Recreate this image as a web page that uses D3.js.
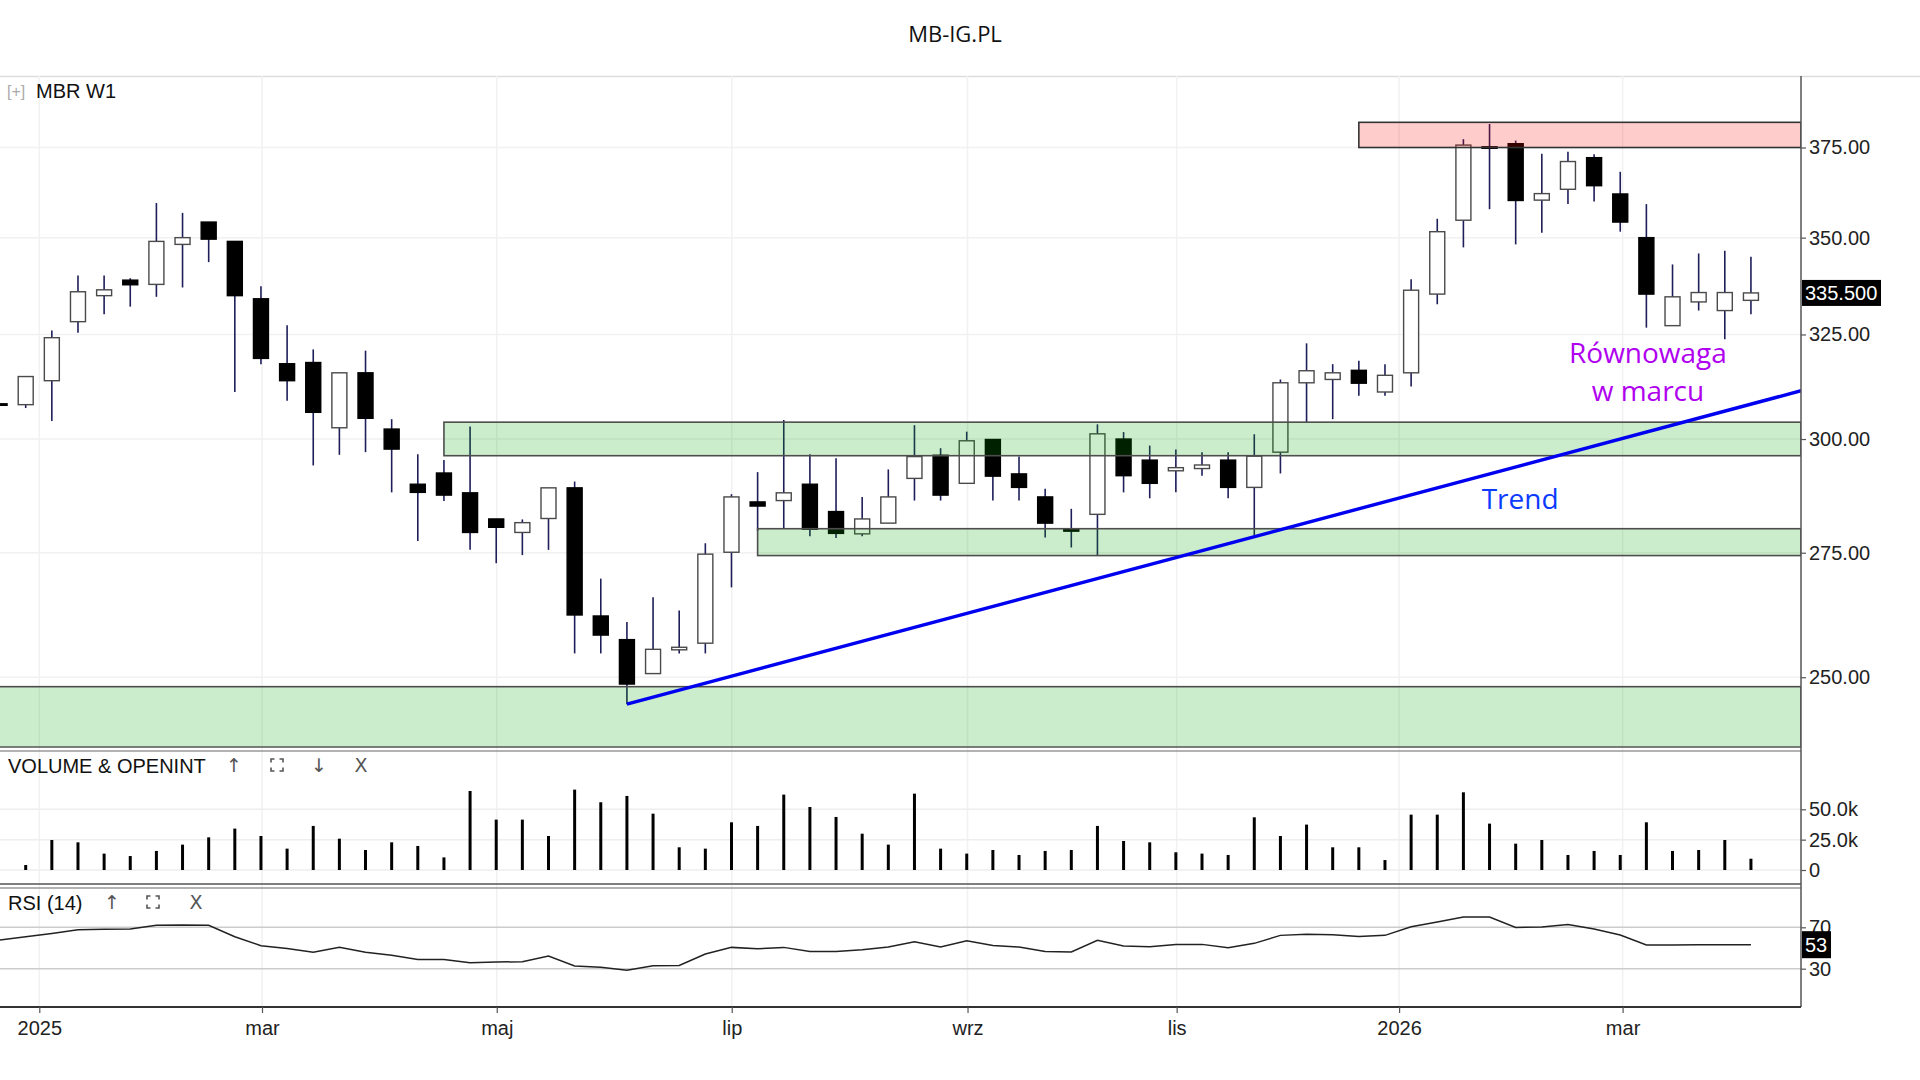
<!DOCTYPE html>
<html>
<head>
<meta charset="utf-8">
<script src="https://cdn.jsdelivr.net/npm/d3@7"></script>
<style>
  body { margin: 0; background: #fff; }
  svg { display: block; font-family: "Liberation Sans", Arial, sans-serif; }
</style>
</head>
<body>
<div id="chart"></div>
<script>
// weekly candles, first one is cut by the left edge
const firstWeek = -1;
const opens  = [308.2, 308.0, 313.7, 328.2, 334.8, 338.8, 337.7, 348.2, 354.2, 349.0, 334.0, 317.8, 318.1, 302.6, 315.6, 302.3, 289.8, 292.3, 287.9, 282.2, 279.3, 282.3, 289.0, 262.0, 257.3, 250.7, 255.3, 256.6, 275.1, 285.9, 286.2, 289.8, 283.8, 279.0, 281.3, 291.1, 296.3, 290.0, 299.9, 292.1, 287.0, 279.9, 283.2, 300.0, 295.2, 292.8, 293.3, 295.2, 289.1, 297.0, 313.2, 314.0, 316.2, 311.0, 315.6, 335.2, 354.7, 375.2, 376.1, 360.2, 363.2, 372.1, 361.9, 350.0, 327.2, 333.2, 331.0, 333.6];
const highs  = [308.2, 314.7, 326.0, 340.0, 340.0, 339.3, 359.4, 356.7, 354.2, 349.0, 337.2, 327.3, 321.3, 315.6, 321.0, 304.6, 296.5, 295.2, 302.9, 282.2, 282.1, 289.0, 290.4, 269.6, 260.8, 265.8, 263.1, 277.0, 287.6, 292.5, 304.4, 296.5, 295.6, 287.0, 293.1, 303.2, 297.9, 301.7, 299.9, 296.0, 288.8, 284.4, 303.4, 301.6, 298.5, 297.6, 297.0, 297.0, 301.1, 314.0, 322.8, 317.7, 318.5, 317.7, 339.0, 355.1, 377.4, 381.8, 377.0, 373.2, 373.8, 373.1, 368.1, 359.1, 342.9, 345.8, 346.5, 344.9];
const lows   = [308.0, 307.2, 304.2, 325.4, 330.1, 332.0, 334.5, 336.9, 343.5, 311.0, 317.7, 308.9, 294.0, 296.4, 297.0, 288.0, 277.5, 286.1, 275.6, 272.8, 274.5, 275.6, 254.6, 254.6, 244.9, 250.7, 254.6, 254.6, 267.8, 279.6, 280.1, 278.5, 278.1, 278.5, 281.3, 286.2, 286.2, 290.0, 286.2, 286.2, 278.2, 276.1, 274.5, 288.0, 286.7, 288.0, 291.7, 286.7, 278.6, 292.2, 303.8, 304.6, 310.1, 310.1, 312.3, 332.6, 347.4, 357.7, 348.2, 351.3, 359.1, 359.8, 351.6, 326.7, 327.2, 331.0, 323.8, 330.1];
const closes = [308.0, 314.7, 324.2, 335.8, 336.3, 337.6, 349.0, 350.0, 349.6, 334.8, 319.1, 313.7, 306.2, 315.6, 304.8, 297.7, 288.0, 287.4, 279.3, 280.4, 281.4, 289.0, 262.2, 258.2, 248.7, 255.4, 255.8, 274.7, 287.0, 285.0, 287.9, 280.0, 279.1, 282.2, 287.0, 296.0, 287.4, 299.6, 291.6, 289.1, 281.3, 279.6, 301.2, 291.7, 290.0, 293.5, 294.1, 289.1, 296.1, 313.2, 316.1, 315.6, 313.1, 315.0, 336.2, 351.6, 375.7, 374.9, 360.1, 362.0, 371.0, 364.2, 354.2, 335.2, 334.5, 335.6, 335.6, 335.5];
// volume in thousands
const volumes = [null, 4.1, 24.7, 22.8, 13.5, 11.5, 15.7, 20.9, 26.9, 34.1, 28.0, 17.6, 36.3, 25.8, 16.5, 22.8, 19.8, 10.4, 65.1, 41.5, 41.5, 28.0, 66.2, 55.8, 61.0, 46.4, 18.7, 17.6, 39.3, 36.3, 62.1, 51.9, 43.7, 29.9, 20.9, 62.9, 17.6, 13.5, 16.5, 12.4, 15.7, 16.5, 36.3, 23.9, 22.8, 14.6, 13.5, 12.4, 43.4, 28.0, 37.4, 18.7, 18.7, 8.2, 45.6, 45.6, 64.0, 38.2, 21.7, 24.7, 12.4, 15.7, 12.4, 39.3, 15.7, 16.5, 24.7, 9.3];
const rsiValues = [57.7, 60.9, 64.1, 67.7, 68.0, 68.3, 71.9, 72.2, 71.9, 60.9, 52.2, 49.6, 45.8, 50.6, 45.8, 42.9, 39.0, 39.0, 35.8, 36.4, 36.8, 42.2, 32.6, 31.3, 28.4, 32.9, 33.2, 44.2, 50.6, 49.3, 50.6, 46.7, 46.7, 48.4, 50.9, 56.1, 50.9, 57.1, 52.5, 50.9, 46.7, 46.1, 57.4, 51.9, 51.3, 53.5, 53.5, 50.3, 54.5, 62.2, 63.2, 62.9, 61.2, 62.2, 70.6, 75.1, 79.9, 79.9, 69.9, 70.3, 72.8, 68.3, 62.5, 52.9, 52.9, 53.2, 53.2, 53.2];

const tickPos    = [0.52, 9.04, 18.02, 27.01, 36.03, 44.03, 52.54, 61.09];
const tickLabels = ["2025", "mar", "maj", "lip", "wrz", "lis", "2026", "mar"];
const priceTicks = [250, 275, 300, 325, 350, 375];
const volTicks = [0, 25, 50];
const rsiTicks = [30, 70];

// zones: start week, low, high
const greenZones = [[-2, 230, 248.2], [16, 296.2, 303.9], [28, 274.4, 280.1]];
const redZones = [[51, 375.0, 382.3]];
const trendPoints = [[23, 244.9], [67.92, 311.3]];
// notes: text, week, price, colour
const notes = [
  ["Równowaga", 62.06, 318.1, "#b000f0"],
  ["w marcu", 62.06, 308.9, "#b000f0"],
  ["Trend", 57.17, 284.4, "#0b3bff"]
];
const lastPrice = 335.5;
const lastRsi = 53.2;

/** SIZING */
const width = 1920, height = 1080;
const plotRight = 1801;
const mainTop = 76, mainBottom = 747;
const volTop = 751, volBottom = 884;
const rsiTop = 888, rsiBottom = 1007;
const bodyW = 15;

const x = d3.scaleLinear().domain([0, 66]).range([25.7, 25.7 + 26.14 * 66]);
const y = d3.scaleLog().domain([237, 396.1]).range([mainBottom, mainTop]);
const yv = d3.scaleLinear().domain([0, 50]).range([870, 809.3]);
const yr = d3.scaleLinear().domain([30, 70]).range([968.7, 927.3]);

const candles = opens.map((o, i) => ({
  k: i + firstWeek, o: o, h: highs[i], l: lows[i], c: closes[i], v: volumes[i], r: rsiValues[i]
}));

const svg = d3.select("#chart").append("svg")
  .attr("width", width)
  .attr("height", height);

const defs = svg.append("defs");
defs.append("clipPath").attr("id", "clipMain")
  .append("rect").attr("x", 0).attr("y", mainTop).attr("width", plotRight).attr("height", mainBottom - mainTop);
defs.append("clipPath").attr("id", "clipLow")
  .append("rect").attr("x", 0).attr("y", volTop).attr("width", plotRight).attr("height", rsiBottom - volTop);

/** HEADER */
svg.append("text")
  .text("MB-IG.PL")
  .attr("x", 955).attr("y", 42)
  .attr("text-anchor", "middle")
  .style("font-family", "'Open Sans', sans-serif")
  .style("font-size", "22px")
  .style("fill", "#111");
svg.append("line")
  .attr("x1", 0).attr("x2", width).attr("y1", mainTop + 0.5).attr("y2", mainTop + 0.5)
  .style("stroke", "#dddddd").style("stroke-width", 1.5);

/** GRID */
let grid = svg.append("g");
grid.selectAll("line.v")
  .data(tickPos).enter()
  .append("line")
  .attr("x1", d => x(d)).attr("x2", d => x(d))
  .attr("y1", mainTop).attr("y2", rsiBottom)
  .style("stroke", "#f1f1f1").style("stroke-width", 1.5);
grid.selectAll("line.p")
  .data(priceTicks).enter()
  .append("line")
  .attr("x1", 0).attr("x2", plotRight)
  .attr("y1", d => y(d)).attr("y2", d => y(d))
  .style("stroke", "#f1f1f1").style("stroke-width", 1.5);
grid.selectAll("line.vol")
  .data(volTicks).enter()
  .append("line")
  .attr("x1", 0).attr("x2", plotRight)
  .attr("y1", d => yv(d)).attr("y2", d => yv(d))
  .style("stroke", "#eeeeee").style("stroke-width", 1.5);
grid.selectAll("line.rsi")
  .data(rsiTicks).enter()
  .append("line")
  .attr("x1", 0).attr("x2", plotRight)
  .attr("y1", d => yr(d)).attr("y2", d => yr(d))
  .style("stroke", "#cccccc").style("stroke-width", 1.5);

/** CANDLES */
let mainG = svg.append("g").attr("clip-path", "url(#clipMain)");
mainG.selectAll("line.wick")
  .data(candles).enter()
  .append("line")
  .attr("x1", d => x(d.k)).attr("x2", d => x(d.k))
  .attr("y1", d => y(d.h)).attr("y2", d => y(d.l))
  .style("stroke", "#1e1e5a").style("stroke-width", 1.6);
mainG.selectAll("rect.body")
  .data(candles).enter()
  .append("rect")
  .attr("x", d => x(d.k) - bodyW / 2)
  .attr("width", bodyW)
  .attr("y", d => y(Math.max(d.o, d.c)))
  .attr("height", d => Math.max(1.5, y(Math.min(d.o, d.c)) - y(Math.max(d.o, d.c))))
  .style("fill", d => d.c >= d.o ? "#ffffff" : "#000000")
  .style("stroke", d => d.c >= d.o ? "#4a4a4a" : "#000000")
  .style("stroke-width", 1.4);

/** ZONES */
mainG.selectAll("rect.green")
  .data(greenZones).enter()
  .append("rect")
  .attr("x", d => x(d[0]))
  .attr("width", d => plotRight - x(d[0]))
  .attr("y", d => y(d[2]))
  .attr("height", d => y(d[1]) - y(d[2]))
  .style("fill", "rgba(0,165,0,0.2)")
  .style("stroke", "#4d4d4d").style("stroke-width", 1.6);
mainG.selectAll("rect.red")
  .data(redZones).enter()
  .append("rect")
  .attr("x", d => x(d[0]))
  .attr("width", d => plotRight - x(d[0]))
  .attr("y", d => y(d[2]))
  .attr("height", d => y(d[1]) - y(d[2]))
  .style("fill", "rgba(255,0,0,0.2)")
  .style("stroke", "#333333").style("stroke-width", 1.6);

/** TREND */
mainG.append("path")
  .datum(trendPoints)
  .attr("d", d3.line().x(d => x(d[0])).y(d => y(d[1])))
  .style("fill", "none")
  .style("stroke", "#0000f0")
  .style("stroke-width", 3.4);

svg.append("g")
  .selectAll("text")
  .data(notes).enter()
  .append("text")
  .text(d => d[0])
  .attr("x", d => x(d[1]))
  .attr("y", d => y(d[2]))
  .attr("text-anchor", "middle")
  .style("font-family", "'Open Sans', sans-serif")
  .style("font-size", "28px")
  .style("fill", d => d[3]);

/** VOLUME */
let lowG = svg.append("g").attr("clip-path", "url(#clipLow)");
lowG.selectAll("line.volbar")
  .data(candles.filter(d => d.v !== null)).enter()
  .append("line")
  .attr("x1", d => x(d.k)).attr("x2", d => x(d.k))
  .attr("y1", yv(0)).attr("y2", d => yv(d.v))
  .style("stroke", "#000").style("stroke-width", 3);

/** RSI */
lowG.append("path")
  .datum(candles)
  .attr("d", d3.line().x(d => x(d.k)).y(d => yr(d.r)))
  .style("fill", "none")
  .style("stroke", "#222")
  .style("stroke-width", 1.5);

/** PANEL BORDERS */
[[mainBottom, "#555"], [volTop, "#999"], [volBottom, "#555"], [rsiTop, "#999"]].forEach(b => {
  svg.append("line")
    .attr("x1", 0).attr("x2", plotRight).attr("y1", b[0]).attr("y2", b[0])
    .style("stroke", b[1]).style("stroke-width", 1.5);
});
svg.append("line")
  .attr("x1", plotRight).attr("x2", plotRight).attr("y1", mainTop).attr("y2", rsiBottom)
  .style("stroke", "#555").style("stroke-width", 1.5);
svg.append("line")
  .attr("x1", 0).attr("x2", plotRight).attr("y1", rsiBottom).attr("y2", rsiBottom)
  .style("stroke", "#333").style("stroke-width", 1.8);

/** AXES */
function styleAxis(g) {
  g.select(".domain").remove();
  g.selectAll(".tick line").style("stroke", "#555").style("stroke-width", 1.2);
  g.selectAll(".tick text").style("font-size", "20px").style("fill", "#222")
    .style("font-family", "'Liberation Sans', Arial, sans-serif");
}
svg.append("g")
  .attr("transform", `translate(${plotRight},0)`)
  .call(d3.axisRight(y).tickValues(priceTicks).tickFormat(d3.format(".2f")).tickSize(5))
  .call(styleAxis);
svg.append("g")
  .attr("transform", `translate(${plotRight},0)`)
  .call(d3.axisRight(yv).tickValues(volTicks).tickFormat(d => d === 0 ? "0" : d3.format(".1f")(d) + "k").tickSize(5))
  .call(styleAxis);
svg.append("g")
  .attr("transform", `translate(${plotRight},0)`)
  .call(d3.axisRight(yr).tickValues(rsiTicks).tickSize(5))
  .call(styleAxis);
svg.append("g")
  .attr("transform", `translate(0,${rsiBottom})`)
  .call(d3.axisBottom(x).tickValues(tickPos).tickFormat((d, i) => tickLabels[i]).tickSize(6).tickPadding(8))
  .call(styleAxis);

/** LAST VALUE LABELS */
svg.append("rect")
  .attr("x", plotRight + 1).attr("y", y(lastPrice) - 13)
  .attr("width", 79).attr("height", 26)
  .style("fill", "#000");
svg.append("text").text(d3.format(".3f")(lastPrice))
  .attr("x", plotRight + 4).attr("y", y(lastPrice) + 7)
  .style("font-size", "20px").style("fill", "#fff");
svg.append("rect")
  .attr("x", plotRight + 1).attr("y", yr(lastRsi) - 13.5)
  .attr("width", 29).attr("height", 27)
  .style("fill", "#000");
svg.append("text").text(d3.format(".0f")(lastRsi))
  .attr("x", plotRight + 4).attr("y", yr(lastRsi) + 7)
  .style("font-size", "20px").style("fill", "#fff");

/** PANEL TITLES */
svg.append("text").text("[+]")
  .attr("x", 7).attr("y", 97)
  .style("font-size", "16px").style("fill", "#aaa");
svg.append("text").text("MBR W1")
  .attr("x", 36).attr("y", 98)
  .style("font-size", "20px").style("fill", "#111");
svg.append("text").text("VOLUME & OPENINT")
  .attr("x", 8).attr("y", 773)
  .style("font-size", "20px").style("fill", "#111");
svg.append("text").text("RSI (14)")
  .attr("x", 8).attr("y", 910)
  .style("font-size", "20px").style("fill", "#111");

function corners(g, cx, cy) {
  let s = 6, t = 3.5;
  let p = `M${cx - s},${cy - s + t}V${cy - s}H${cx - s + t}` +
          `M${cx + s - t},${cy - s}H${cx + s}V${cy - s + t}` +
          `M${cx + s},${cy + s - t}V${cy + s}H${cx + s - t}` +
          `M${cx - s + t},${cy + s}H${cx - s}V${cy + s - t}`;
  g.append("path").attr("d", p).style("fill", "none").style("stroke", "#555").style("stroke-width", 1.6);
}
function icons(items, cy) {
  let g = svg.append("g");
  items.forEach(it => {
    if (it[0] === "corners") {
      corners(g, it[1], cy);
    } else {
      g.append("text").text(it[0])
        .attr("x", it[1]).attr("y", cy + 7)
        .attr("text-anchor", "middle")
        .style("font-family", "'DejaVu Sans', sans-serif")
        .style("font-size", "19px").style("fill", "#555");
    }
  });
}
icons([["↑", 234], ["corners", 277], ["↓", 319], ["X", 361]], 765);
icons([["↑", 112], ["corners", 153], ["X", 196]], 902);
</script>
</body>
</html>
